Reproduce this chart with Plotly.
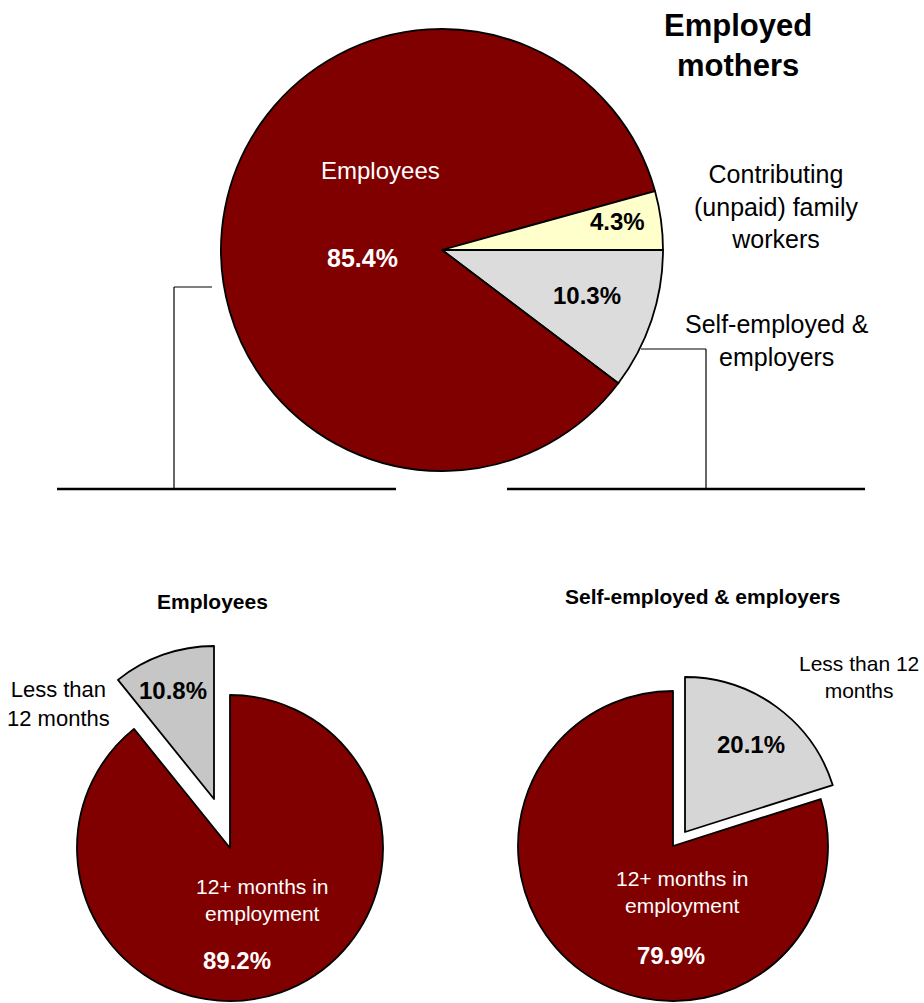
import plotly.graph_objects as go

# ---------------- data ----------------
main_labels = ["Self-employed & employers", "Employees", "Contributing (unpaid) family workers"]
main_values = [10.3, 85.4, 4.3]

emp_labels = ["12+ months in employment", "Less than 12 months"]
emp_values = [89.2, 10.8]

self_labels = ["Less than 12 months", "12+ months in employment"]
self_values = [20.1, 79.9]

# ---------------- style ----------------
W, H = 924, 1003
RED = "#800000"
YELLOW = "#FFFFCC"
GRAY_TOP = "#DCDCDC"
GRAY_BL = "#C6C6C6"
GRAY_BR = "#D6D6D6"
CLEAR = "rgba(0,0,0,0)"
FONT = "Liberation Sans, Arial, sans-serif"
EDGE = 1.8


def px(x):
    return x / W


def py(y):
    return 1 - y / H


def domain(cx, cy, r):
    return dict(x=[px(cx - r), px(cx + r)], y=[py(cy + r), py(cy - r)])


fig = go.Figure()

# top pie
fig.add_trace(go.Pie(
    labels=main_labels, values=main_values, sort=False, direction="clockwise",
    rotation=90, textinfo="none", hoverinfo="label+percent",
    marker=dict(colors=[GRAY_TOP, RED, YELLOW], line=dict(color="black", width=EDGE)),
    domain=domain(442, 250, 221), showlegend=False,
))

# bottom-left: employees (main part + exploded slice)
fig.add_trace(go.Pie(
    labels=emp_labels, values=emp_values, sort=False, direction="clockwise",
    rotation=0, textinfo="none", hoverinfo="label+percent",
    marker=dict(colors=[RED, CLEAR], line=dict(color="black", width=[EDGE, 0])),
    domain=domain(230, 848, 153), showlegend=False,
))
fig.add_trace(go.Pie(
    labels=emp_labels, values=emp_values, sort=False, direction="clockwise",
    rotation=0, textinfo="none", hoverinfo="label+percent",
    marker=dict(colors=[CLEAR, GRAY_BL], line=dict(color="black", width=[0, EDGE])),
    domain=domain(214, 799, 153), showlegend=False,
))

# bottom-right: self-employed (main part + exploded slice)
fig.add_trace(go.Pie(
    labels=self_labels, values=self_values, sort=False, direction="clockwise",
    rotation=0, textinfo="none", hoverinfo="label+percent",
    marker=dict(colors=[CLEAR, RED], line=dict(color="black", width=[0, EDGE])),
    domain=domain(673, 846, 155), showlegend=False,
))
fig.add_trace(go.Pie(
    labels=self_labels, values=self_values, sort=False, direction="clockwise",
    rotation=0, textinfo="none", hoverinfo="label+percent",
    marker=dict(colors=[GRAY_BR, CLEAR], line=dict(color="black", width=[EDGE, 0])),
    domain=domain(685, 832, 155), showlegend=False,
))

# ---------------- connector lines ----------------
shapes = []


def seg(x0, y0, x1, y1, w):
    shapes.append(dict(type="line", xref="paper", yref="paper",
                       x0=px(x0), y0=py(y0), x1=px(x1), y1=py(y1),
                       line=dict(color="black", width=w)))


seg(57, 489, 396, 489, 2.5)
seg(507, 489, 865, 489, 2.5)
seg(212, 287, 174, 287, 1.2)
seg(174, 287, 174, 489, 1.2)
seg(641, 349, 706, 349, 1.2)
seg(706, 349, 706, 489, 1.2)

# ---------------- text ----------------
annotations = []


def txt(x, y, s, size, color="black", bold=False):
    annotations.append(dict(
        x=px(x), y=py(y), xref="paper", yref="paper", text=s, showarrow=False,
        xanchor="center", yanchor="middle", align="center",
        font=dict(family=FONT, size=size, color=color,
                  weight="bold" if bold else "normal"),
    ))


def pct(v):
    return f"{v:.1f}%"


txt(738, 45, "Employed<br>mothers", 31, bold=True)
txt(380, 170, main_labels[1], 24, color="white")
txt(362, 258, pct(main_values[1]), 25, color="white", bold=True)
txt(617, 222, pct(main_values[2]), 24, bold=True)
txt(587, 296, pct(main_values[0]), 24, bold=True)
txt(776, 206, "Contributing<br>(unpaid) family<br>workers", 25)
txt(777, 340, "Self-employed &<br>employers", 25)

txt(212, 601, "Employees", 21, bold=True)
txt(702, 596, "Self-employed & employers", 21, bold=True)

txt(58, 704, "Less than<br>12 months", 22)
txt(173, 690, pct(emp_values[1]), 24, bold=True)
txt(262, 900, "12+ months in<br>employment", 21, color="white")
txt(237, 960, pct(emp_values[0]), 24, color="white", bold=True)

txt(859, 677, "Less than 12<br>months", 21)
txt(751, 744, pct(self_values[0]), 24, bold=True)
txt(682, 892, "12+ months in<br>employment", 21, color="white")
txt(671, 955, pct(self_values[1]), 24, color="white", bold=True)

fig.update_layout(
    width=W, height=H, margin=dict(l=0, r=0, t=0, b=0),
    paper_bgcolor="white", plot_bgcolor="white",
    shapes=shapes, annotations=annotations, showlegend=False,
    font=dict(family=FONT),
)

fig.write_html("out.html")
